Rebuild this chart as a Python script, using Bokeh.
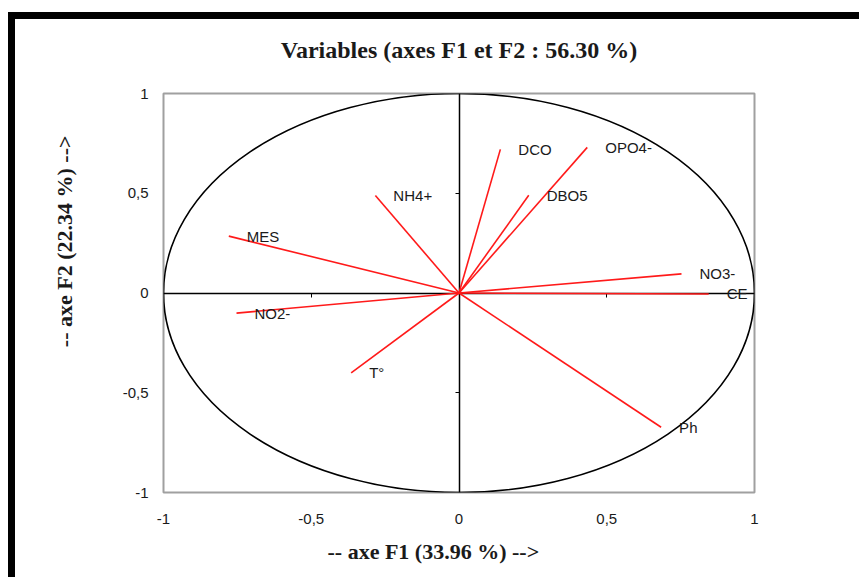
from bokeh.plotting import figure
from bokeh.models import LinearAxis, FixedTicker, ColumnDataSource, Range1d, Title
from bokeh.core.properties import value
from bokeh.embed import file_html
from bokeh.resources import INLINE

# ---- data ----
variables = ["DCO", "OPO4-", "DBO5", "NO3-", "CE", "NH4+", "MES", "NO2-", "T°", "Ph"]
f1 = [0.140, 0.434, 0.236, 0.753, 0.845, -0.283, -0.779, -0.753, -0.365, 0.684]
f2 = [0.720, 0.730, 0.490, 0.096, -0.005, 0.489, 0.285, -0.101, -0.400, -0.673]
tick_values = [-1, -0.5, 0, 0.5, 1]
tick_labels = ["-1", "-0,5", "0", "0,5", "1"]
cross_ticks = [-0.5, 0.5]

title_text = "Variables (axes F1 et F2 : 56.30 %)"
xlabel_text = "-- axe F1 (33.96 %) -->"
ylabel_text = "-- axe F2 (22.34 %) -->"

SERIF = "Liberation Serif"
SANS = "Liberation Sans"

W, H = 859, 577
FL, FT, FW, FH = 163, 93, 591, 399
frame_css = ("linear-gradient(#000,#000) 8px 12px / 100% 7px no-repeat, "
             "linear-gradient(#000,#000) 8px 12px / 7px 100% no-repeat, #fff")
p = figure(width=W, height=H, x_range=Range1d(-1, 1), y_range=Range1d(-1, 1),
           output_backend="svg", toolbar_location=None,
           min_border_left=FL, min_border_right=W - FL - FW,
           min_border_top=FT, min_border_bottom=H - FT - FH,
           background_fill_color="white", border_fill_color=None,
           styles={"background": frame_css})
p.xgrid.visible = False
p.ygrid.visible = False
p.outline_line_color = "#a0a0a0"
p.outline_line_width = 2

p.title.text = title_text
p.title.align = "center"
p.title.text_font = SERIF
p.title.text_font_size = "24px"
p.title.text_font_style = "bold"
p.title.text_color = "#1a1a1a"
p.title.standoff = 62

overrides = {v: l for v, l in zip(tick_values, tick_labels)}
for ax in (p.xaxis[0], p.yaxis[0]):
    ax.ticker = FixedTicker(ticks=tick_values)
    ax.major_label_overrides = overrides
    ax.axis_line_color = None
    ax.major_tick_out = 0
    ax.major_tick_in = 0
    ax.minor_tick_out = 0
    ax.minor_tick_in = 0
    ax.major_label_text_font = SANS
    ax.major_label_text_font_size = "15px"
    ax.major_label_text_color = "#1a1a1a"
p.xaxis[0].major_label_standoff = 21
p.yaxis[0].major_label_standoff = 15

# axis titles (side titles so they can sit off-centre like the reference)
p.add_layout(Title(text=xlabel_text, align="left", offset=164, standoff=20,
                   text_font=SERIF, text_font_size="22px", text_font_style="bold",
                   text_color="#1a1a1a"), "below")
p.add_layout(Title(text=ylabel_text, align="right", offset=42, standoff=86,
                   text_font=SERIF, text_font_size="22px", text_font_style="bold",
                   text_color="#1a1a1a"), "left")

# cross axes through the origin
blank = {t: "" for t in cross_ticks}
hx = LinearAxis(fixed_location=0, ticker=FixedTicker(ticks=cross_ticks),
                major_label_overrides=blank, axis_line_color="black", axis_line_width=1.5,
                major_tick_in=4, major_tick_out=0, minor_tick_in=0, minor_tick_out=0,
                major_tick_line_color="black", major_label_standoff=0)
p.add_layout(hx, "above")
vy = LinearAxis(fixed_location=0, ticker=FixedTicker(ticks=cross_ticks),
                major_label_overrides=blank, axis_line_color="black", axis_line_width=1.5,
                major_tick_in=4, major_tick_out=0, minor_tick_in=0, minor_tick_out=0,
                major_tick_line_color="black", major_label_standoff=0)
p.add_layout(vy, "right")

# correlation circle
p.ellipse(x=[0], y=[0], width=[2], height=[2], fill_color=None,
          line_color="black", line_width=1.6)

src = ColumnDataSource(dict(x0=[0] * len(f1), y0=[0] * len(f2), x=f1, y=f2, name=variables))
p.segment(x0="x0", y0="y0", x1="x", y1="y", source=src, line_color="#ff1a1a",
          line_width=1.6, level="overlay")
p.text(x="x", y="y", text="name", source=src, x_offset=18, y_offset=0,
       text_font=value(SANS), text_font_size="15px", text_color="#1a1a1a",
       text_align="left", text_baseline="middle", level="overlay")

open("out.html", "w").write(file_html(p, INLINE))
